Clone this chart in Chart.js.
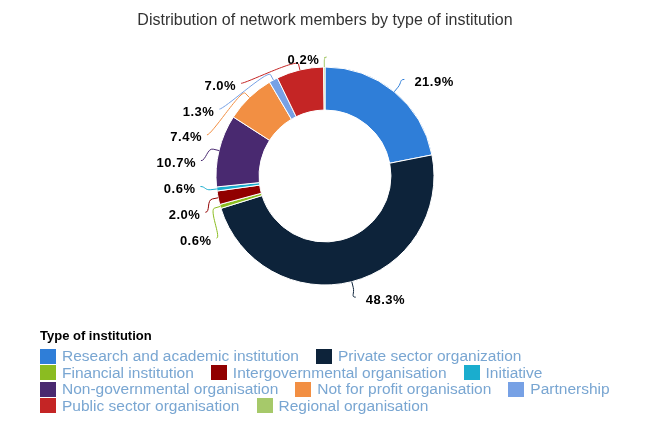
<!DOCTYPE html>
<html>
<head>
<meta charset="utf-8">
<script src="https://cdn.jsdelivr.net/npm/chart.js@4/dist/chart.umd.min.js"></script>
<style>
    html, body { margin: 0; padding: 0; background: #fff; }
    #wrap { position: relative; width: 650px; height: 433px; font-family: 'Liberation Sans', Arial, sans-serif; }
    #chart { position: absolute; left: 0; top: 0; }
    #legend { position: absolute; left: 40px; top: 327px; width: 620px; }
    #legend .title { font-weight: bold; font-size: 13px; line-height: 18px; color: #000; }
    #legend .items { display: flex; flex-wrap: wrap; margin-top: 3px; }
    #legend .item { display: flex; align-items: center; height: 16.5px; margin-right: 17px; font-size: 15.5px; color: #79a6d2; white-space: nowrap; }
    #legend .box { width: 16px; height: 15px; margin-right: 6px; flex: none; }
</style>
</head>
<body>
<div id="wrap">
    <canvas id="chart" width="650" height="433"></canvas>
    <div id="legend"></div>
</div>
<script>
    // Data
    const categories = [
        'Research and academic institution',
        'Private sector organization',
        'Financial institution',
        'Intergovernmental organisation',
        'Initiative',
        'Non-governmental organisation',
        'Not for profit organisation',
        'Partnership',
        'Public sector organisation',
        'Regional organisation'
    ];
    const shares = [21.9, 48.3, 0.6, 2.0, 0.6, 10.7, 7.4, 1.3, 7.0, 0.2];
    const colors = ['#2f7ed8', '#0d233a', '#8bbc21', '#910000', '#1aadce',
                    '#492970', '#f28f43', '#77a1e5', '#c42525', '#a6c96a'];
    const chartTitle = 'Distribution of network members by type of institution';
    const legendTitle = 'Type of institution';

    const FONT = "'Liberation Sans', Arial, sans-serif";

    // Spread labels on one side so they don't overlap (groups get merged and centred)
    const distribute = (list, minY, maxY, step) => {
        list.sort((a, b) => a.ty - b.ty);
        let groups = list.map(it => ({ items: [it], pos: it.ty }));
        const place = (g) => {
            let sum = 0;
            g.items.forEach((it, k) => { sum += it.ty - k * step; });
            let p = sum / g.items.length;
            p = Math.min(p, maxY - (g.items.length - 1) * step);
            g.pos = Math.max(p, minY);
        };
        groups.forEach(place);
        let merged = true;
        while (merged) {
            merged = false;
            for (let j = 1; j < groups.length; j++) {
                const prev = groups[j - 1];
                if (prev.pos + prev.items.length * step > groups[j].pos) {
                    prev.items = prev.items.concat(groups[j].items);
                    groups.splice(j, 1);
                    place(prev);
                    merged = true;
                    break;
                }
            }
        }
        groups.forEach(g => g.items.forEach((it, k) => { it.y = g.pos + k * step; it.edge = (it.y <= minY + 1 || it.y >= maxY - 1); }));
    };

    const outerLabels = {
        id: 'outerLabels',
        afterDatasetsDraw(chart) {
            const arcs = chart.getDatasetMeta(0).data;
            const values = chart.data.datasets[0].data;
            const bg = chart.data.datasets[0].backgroundColor;
            const ctx = chart.ctx;
            const cx = arcs[0].x, cy = arcs[0].y, R = arcs[0].outerRadius;
            const L = R + 16;
            const step = 25.8;
            const minY = chart.chartArea.top - 9;
            const maxY = chart.chartArea.bottom + 12;

            const items = arcs.map((arc, i) => {
                const a = (arc.startAngle + arc.endAngle) / 2;
                const cos = Math.cos(a), sin = Math.sin(a);
                return {
                    i, cos, sin, left: cos < 0,
                    ty: cy + L * sin,
                    touch: { x: cx + R * cos, y: cy + R * sin },
                    brk: { x: cx + (R + 6) * cos, y: cy + (R + 6) * sin }
                };
            });
            distribute(items.filter(it => it.left), minY, maxY, step);
            distribute(items.filter(it => !it.left), minY, maxY, step);

            ctx.save();
            items.forEach(it => {
                const dy = (it.edge ? it.ty : it.y) - cy;
                const dx = Math.sqrt(Math.max(0, L * L - dy * dy));
                const x = it.left ? cx - dx : cx + dx;
                const y = it.y;

                // soft connector
                ctx.beginPath();
                ctx.strokeStyle = bg[it.i];
                ctx.lineWidth = 1;
                ctx.moveTo(x, y);
                ctx.bezierCurveTo(
                    x + (it.left ? 5 : -5), y,
                    2 * it.brk.x - it.touch.x, 2 * it.brk.y - it.touch.y,
                    it.brk.x, it.brk.y
                );
                ctx.lineTo(it.touch.x, it.touch.y);
                ctx.stroke();

                // label
                ctx.font = 'bold 13px ' + FONT;
                ctx.letterSpacing = '0.5px';
                ctx.fillStyle = '#000';
                ctx.textBaseline = 'middle';
                ctx.textAlign = it.left ? 'right' : 'left';
                ctx.fillText(values[it.i].toFixed(1) + '%', it.left ? x - 5 : x + 10, y + 3);
            });
            ctx.restore();
        }
    };

    const chart = new Chart(document.getElementById('chart').getContext('2d'), {
        type: 'doughnut',
        data: {
            labels: categories,
            datasets: [{
                data: shares,
                backgroundColor: colors,
                borderColor: '#ffffff',
                borderWidth: 1,
                hoverOffset: 0
            }]
        },
        options: {
            responsive: false,
            animation: false,
            cutout: '60.5%',
            layout: { padding: { top: 0, bottom: 147.5 } },
            plugins: {
                legend: { display: false },
                tooltip: { enabled: false },
                title: {
                    display: true,
                    text: chartTitle,
                    color: '#333333',
                    font: { family: FONT, size: 16, weight: 'normal' },
                    padding: { top: 11, bottom: 36.3 }
                }
            }
        },
        plugins: [outerLabels]
    });

    // HTML legend built from the chart's own legend items
    const legendEl = document.getElementById('legend');
    const items = chart.options.plugins.legend.labels.generateLabels(chart);
    let html = '<div class="title">' + legendTitle + '</div><div class="items">';
    items.forEach(it => {
        html += '<div class="item"><span class="box" style="background:' + it.fillStyle + '"></span>' + it.text + '</div>';
    });
    html += '</div>';
    legendEl.innerHTML = html;
</script>
</body>
</html>
